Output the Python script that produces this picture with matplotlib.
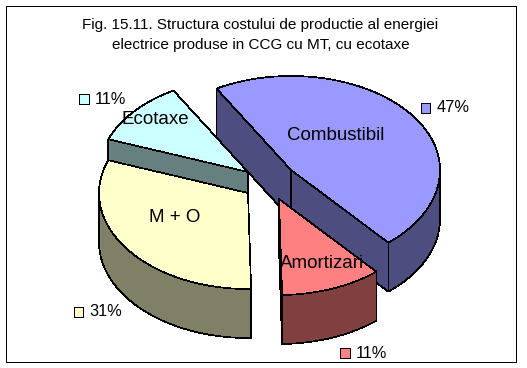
import numpy as np
import matplotlib
matplotlib.use("Agg")
import matplotlib.pyplot as plt
from matplotlib.patches import Polygon, Rectangle

plt.rcParams['font.family'] = ['Liberation Sans', 'DejaVu Sans']

# Data, clockwise from the first slice
categories = ["Combustibil", "Amortizari", "M + O", "Ecotaxe"]
values = [47, 11, 31, 11]
title_lines = ["Fig. 15.11. Structura costului de productie al energiei",
               "electrice produse in CCG cu MT, cu ecotaxe"]

top_colors = {"Combustibil": "#9999FF", "Amortizari": "#FF8080", "M + O": "#FFFFCC", "Ecotaxe": "#CCFFFF"}
side_colors = {"Combustibil": "#4D4D80", "Amortizari": "#804040", "M + O": "#808066", "Ecotaxe": "#668080"}
draw_order = ["Ecotaxe", "Combustibil", "M + O", "Amortizari"]

label_pos = {"Combustibil": (336, 136), "Amortizari": (322, 264), "M + O": (175, 217), "Ecotaxe": (155, 120)}
pct_pos = {"Combustibil": (425.5, 108), "Amortizari": (345, 353), "M + O": (78.5, 312), "Ecotaxe": (84, 99)}

# Pie geometry in figure pixels: apex of each exploded slice
apex = {"Combustibil": (291, 170), "Amortizari": (279, 199), "M + O": (248, 193), "Ecotaxe": (248, 172)}
A = 149.0
B_BACK, B_FRONT = 94.0, 96.0
DEPTH = 49.0
START = -30.0

fig = plt.figure(figsize=(5.27, 3.68), dpi=100)
ax = fig.add_axes([0, 0, 1, 1])
ax.set_xlim(0, 527)
ax.set_ylim(368, 0)
ax.axis("off")

ax.add_patch(Rectangle((5.5, 5.5), 510.5, 356.5, fc="white", ec="black", lw=0.6, zorder=0, antialiased=False))

shares = np.array(values, dtype=float) / sum(values) * 360
starts = START + np.concatenate([[0], np.cumsum(shares)[:-1]])
index = {c: i for i, c in enumerate(categories)}
poly = dict(ec="black", lw=0.5, zorder=2, antialiased=False, closed=True)

for name in draw_order:
    i = index[name]
    t0, t1 = starts[i], starts[i] + shares[i]
    cx, cy = apex[name]
    th = np.radians(np.linspace(t0, t1, int(shares[i] * 2) + 2))
    xs = cx + A * np.sin(th)
    ys = cy - np.where(np.cos(th) >= 0, B_BACK, B_FRONT) * np.cos(th)
    rim = np.column_stack([xs, ys])
    outline = np.vstack([[cx, cy], rim])
    n = len(outline)
    for k in (0, n - 1):
        p, q = outline[k], outline[(k + 1) % n]
        if q[0] - p[0] >= 0:   # wall faces away from the viewer
            continue
        ax.add_patch(Polygon([p, q, q + [0, DEPTH], p + [0, DEPTH]], fc=side_colors[name], **poly))
    front = np.cos(th) <= 0
    if front.any():
        rf = rim[front]
        wall = np.vstack([rf, rf[::-1] + [0, DEPTH]])
        ax.add_patch(Polygon(wall, fc=side_colors[name], **poly))
    ax.add_patch(Polygon(outline, fc=top_colors[name], **poly))
    ax.text(*label_pos[name], name, ha="center", va="center", fontsize=13.5, color="black", zorder=5)
    px, py = pct_pos[name]
    ax.add_patch(Rectangle((px - 5, py - 5), 9.5, 9.5, fc=top_colors[name], ec="black", lw=0.5,
                           zorder=5, antialiased=False))
    ax.text(px + 11, py, f"{values[i]}%", ha="left", va="center", fontsize=11.8, color="black", zorder=5)

ax.text(260.5, 25.5, title_lines[0], ha="center", va="center", fontsize=11, color="black")
ax.text(260.5, 45.5, title_lines[1], ha="center", va="center", fontsize=11, color="black")

fig.savefig("out.png", dpi=100, facecolor="white")
